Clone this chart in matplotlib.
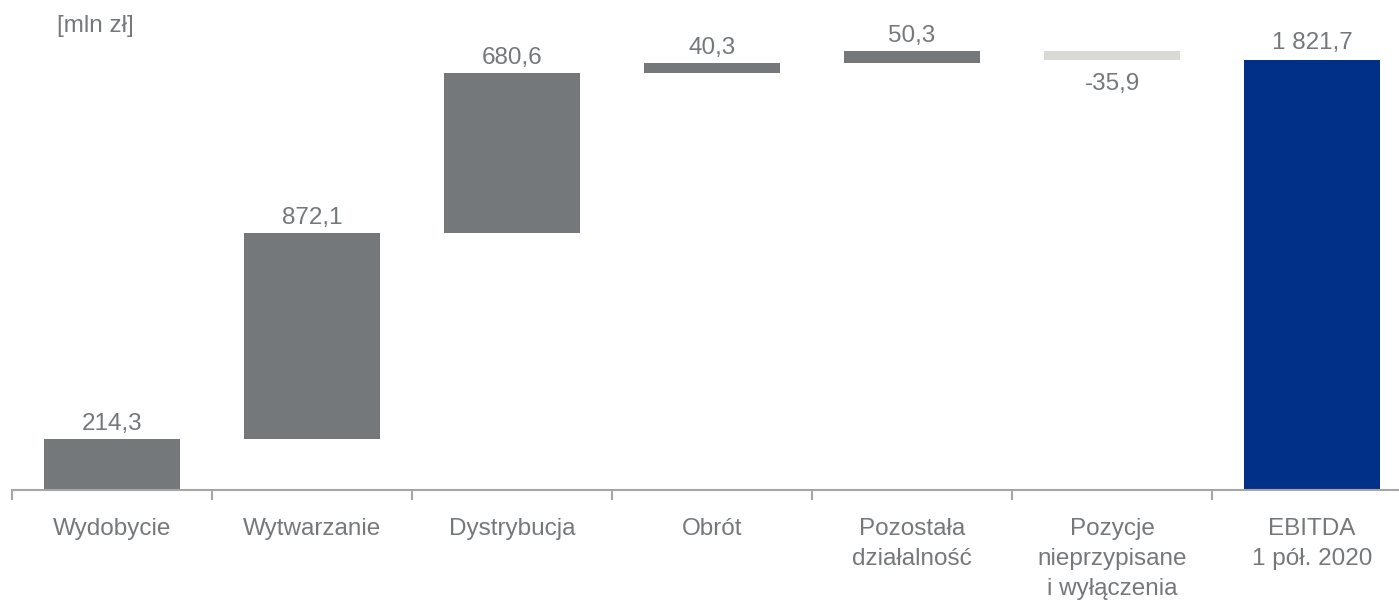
import matplotlib
matplotlib.use("Agg")
import matplotlib.pyplot as plt
import numpy as np

# --- data ---
categories = ["Wydobycie", "Wytwarzanie", "Dystrybucja", "Obrót",
              "Pozostała\ndziałalność", "Pozycje\nnieprzypisane\ni wyłączenia",
              "EBITDA\n1 pół. 2020"]
deltas = [214.3, 872.1, 680.6, 40.3, 50.3, -35.9]
total = 1821.7
value_labels = ["214,3", "872,1", "680,6", "40,3", "50,3", "-35,9", "1 821,7"]

GRAY = "#75787B"
LIGHT = "#D9D9D6"
NAVY = "#003087"
TEXT = "#75787B"
AXIS = "#A6A6A6"
FS = 17.5

plt.rcParams["font.family"] = ["Liberation Sans", "DejaVu Sans"]

fig = plt.figure(figsize=(13.99, 6.0), dpi=100)
ax = fig.add_axes([12 / 1399, 110 / 600, 1400 / 1399, 490 / 600])

# waterfall bases
cum = np.concatenate([[0], np.cumsum(deltas)])
bottoms = [cum[i] if d >= 0 else cum[i] + d for i, d in enumerate(deltas)]
heights = [abs(d) for d in deltas]
colors = [GRAY if d >= 0 else LIGHT for d in deltas]

x = np.arange(len(categories))
width = 0.68
ax.bar(x[:-1], heights, bottom=bottoms, width=width, color=colors, zorder=2)
ax.bar(x[-1], total, width=width, color=NAVY, zorder=2)

# value labels: above the bar for increases, below for decreases
for i, d in enumerate(deltas):
    if d >= 0:
        ax.annotate(value_labels[i], (x[i], cum[i + 1]), xytext=(0, 6.5),
                    textcoords="offset points", ha="center", va="baseline",
                    fontsize=FS, color=TEXT)
    else:
        ax.annotate(value_labels[i], (x[i], cum[i + 1]), xytext=(0, -9.5),
                    textcoords="offset points", ha="center", va="top",
                    fontsize=FS, color=TEXT)
ax.annotate(value_labels[-1], (x[-1], total), xytext=(0, 7.5),
            textcoords="offset points", ha="center", va="baseline",
            fontsize=FS, color=TEXT)

ax.set_xlim(-0.5, len(categories) - 0.5)
ax.set_ylim(0, 2074.5)

for s in ["top", "right", "left"]:
    ax.spines[s].set_visible(False)
ax.spines["bottom"].set_color(AXIS)
ax.spines["bottom"].set_linewidth(1.5)
ax.set_yticks([])

ax.set_xticks(x)
ax.set_xticklabels(categories, fontsize=FS, color=TEXT, linespacing=1.45, va="top")
ax.tick_params(axis="x", which="major", length=0, pad=20.5)
ax.set_xticks(np.arange(-0.5, len(categories) + 0.5, 1), minor=True)
ax.tick_params(axis="x", which="minor", length=7, width=1.5, color=AXIS, direction="out")

fig.text(57 / 1399, 1 - 26 / 600, "[mln zł]", fontsize=FS, color=TEXT,
         ha="left", va="center")

fig.savefig("out.png", dpi=100)
